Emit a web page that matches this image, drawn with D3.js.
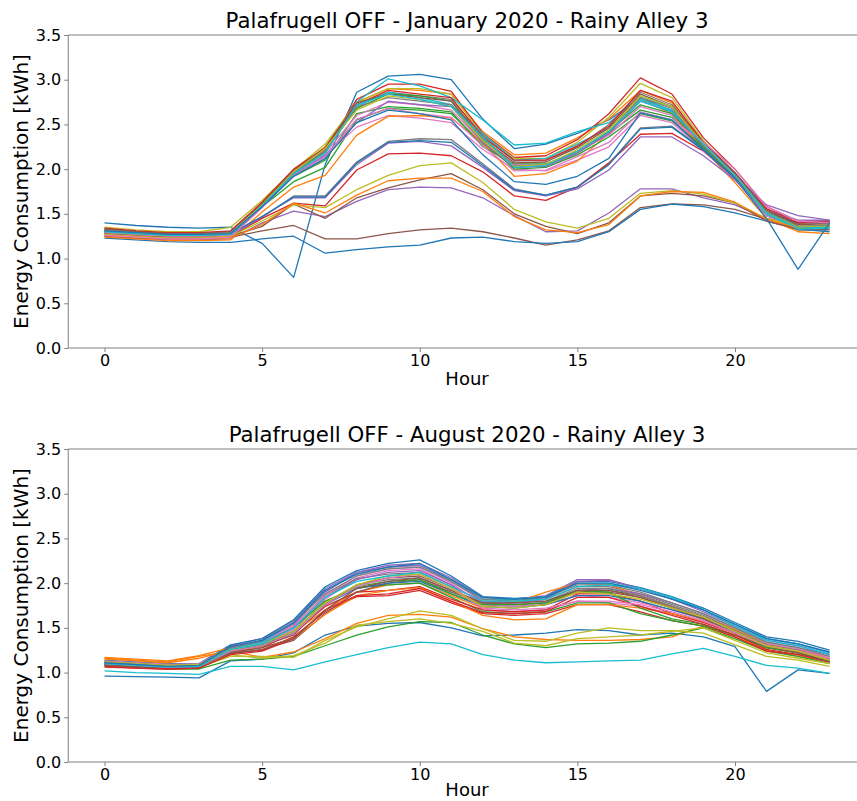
<!DOCTYPE html>
<html><head><meta charset="utf-8">
<script src="https://cdn.jsdelivr.net/npm/d3@7"></script>
<style>body{margin:0;background:#fff} svg{display:block} text{font-family:"DejaVu Sans",sans-serif;fill:#000}</style>
</head><body><svg id="c" width="857" height="801"></svg>
<script>
const hours = [0,1,2,3,4,5,6,7,8,9,10,11,12,13,14,15,16,17,18,19,20,21,22,23];
const xTicks = [0,5,10,15,20];
const yTicks = [0.0,0.5,1.0,1.5,2.0,2.5,3.0,3.5];
const titles = ["Palafrugell OFF - January 2020 - Rainy Alley 3", "Palafrugell OFF - August 2020 - Rainy Alley 3"];
const xLabel = "Hour";
const yLabel = "Energy Consumption [kWh]";
const palette = ["#1f77b4","#ff7f0e","#2ca02c","#d62728","#9467bd","#8c564b","#e377c2","#7f7f7f","#bcbd22","#17becf"];

// January daily profiles (kWh per hour)
const jan01 = [1.40,1.37,1.35,1.34,1.35,1.17,0.79,2.05,2.86,3.04,3.06,3.00,2.56,2.23,2.28,2.40,2.55,2.80,2.65,2.25,1.92,1.48,1.35,1.38];
const jan02 = [1.33,1.30,1.28,1.27,1.28,1.60,1.98,2.25,2.75,2.90,2.88,2.84,2.42,2.16,2.18,2.35,2.56,2.88,2.74,2.28,1.90,1.52,1.38,1.36];
const jan03 = [1.30,1.28,1.26,1.25,1.27,1.58,1.86,2.02,2.55,2.68,2.66,2.62,2.28,2.02,2.04,2.18,2.40,2.66,2.58,2.25,1.92,1.50,1.32,1.33];
const jan04 = [1.32,1.30,1.28,1.28,1.30,1.62,1.99,2.22,2.78,2.95,2.95,2.87,2.40,2.13,2.15,2.33,2.62,3.02,2.84,2.35,2.00,1.58,1.42,1.42];
const jan05 = [1.25,1.23,1.21,1.21,1.22,1.40,1.53,1.47,1.64,1.77,1.80,1.79,1.68,1.48,1.30,1.31,1.51,1.78,1.78,1.68,1.60,1.45,1.40,1.42];
const jan06 = [1.25,1.23,1.22,1.22,1.24,1.31,1.37,1.22,1.22,1.28,1.32,1.34,1.30,1.23,1.15,1.21,1.31,1.57,1.61,1.60,1.55,1.44,1.32,1.32];
const jan07 = [1.27,1.25,1.23,1.23,1.25,1.57,1.94,2.15,2.47,2.60,2.57,2.52,2.22,2.00,1.98,2.10,2.25,2.60,2.52,2.22,1.88,1.48,1.33,1.34];
const jan08 = [1.31,1.28,1.26,1.26,1.27,1.46,1.70,1.70,2.08,2.31,2.34,2.33,2.06,1.78,1.71,1.80,2.06,2.46,2.48,2.22,1.92,1.50,1.38,1.40];
const jan09 = [1.35,1.32,1.30,1.30,1.35,1.65,1.99,2.28,2.74,2.90,2.90,2.84,2.38,2.12,2.12,2.30,2.58,2.96,2.80,2.32,1.95,1.55,1.40,1.40];
const jan10 = [1.32,1.30,1.28,1.27,1.29,1.60,1.96,2.20,2.75,3.01,2.93,2.80,2.55,2.27,2.29,2.42,2.52,2.80,2.70,2.30,1.95,1.52,1.36,1.37];
const jan11 = [1.23,1.21,1.19,1.18,1.18,1.22,1.25,1.06,1.10,1.13,1.15,1.23,1.24,1.19,1.17,1.19,1.30,1.55,1.61,1.58,1.51,1.42,1.33,1.30];
const jan12 = [1.24,1.22,1.20,1.20,1.21,1.52,1.80,1.93,2.38,2.59,2.60,2.57,2.30,1.92,1.95,2.09,2.40,2.78,2.62,2.22,1.85,1.45,1.30,1.28];
const jan13 = [1.29,1.27,1.25,1.24,1.26,1.58,1.92,2.10,2.62,2.70,2.68,2.64,2.25,2.06,2.06,2.20,2.42,2.72,2.62,2.26,1.94,1.50,1.34,1.35];
const jan14 = [1.28,1.26,1.24,1.24,1.25,1.45,1.62,1.59,1.99,2.17,2.18,2.15,1.97,1.70,1.65,1.80,2.07,2.39,2.40,2.20,1.90,1.52,1.40,1.42];
const jan15 = [1.30,1.27,1.25,1.25,1.26,1.47,1.68,1.68,2.05,2.29,2.31,2.26,2.02,1.76,1.70,1.78,1.99,2.36,2.36,2.15,1.88,1.55,1.43,1.43];
const jan16 = [1.28,1.26,1.24,1.24,1.25,1.36,1.61,1.45,1.68,1.79,1.88,1.95,1.77,1.50,1.36,1.28,1.40,1.70,1.73,1.70,1.62,1.42,1.33,1.35];
const jan17 = [1.29,1.27,1.25,1.25,1.26,1.60,1.96,2.18,2.60,2.75,2.72,2.66,2.30,2.05,2.04,2.20,2.38,2.70,2.60,2.20,1.90,1.50,1.35,1.36];
const jan18 = [1.33,1.30,1.28,1.28,1.30,1.61,1.97,2.22,2.72,2.86,2.82,2.78,2.38,2.09,2.10,2.25,2.50,2.86,2.72,2.30,1.95,1.55,1.38,1.40];
const jan19 = [1.27,1.25,1.23,1.23,1.25,1.42,1.60,1.57,1.77,1.93,2.04,2.07,1.85,1.55,1.41,1.34,1.45,1.73,1.76,1.72,1.62,1.45,1.36,1.38];
const jan20 = [1.31,1.29,1.27,1.26,1.28,1.59,1.95,2.19,2.70,2.86,2.80,2.72,2.40,2.10,2.12,2.28,2.46,2.78,2.66,2.28,1.92,1.50,1.33,1.34];
const jan21 = [1.32,1.29,1.27,1.27,1.28,1.47,1.69,1.69,2.07,2.30,2.32,2.30,2.04,1.77,1.71,1.80,2.05,2.45,2.47,2.21,1.90,1.52,1.40,1.41];
const jan22 = [1.26,1.24,1.22,1.22,1.23,1.38,1.62,1.51,1.71,1.87,1.90,1.90,1.75,1.47,1.32,1.29,1.38,1.70,1.75,1.74,1.63,1.44,1.34,1.36];
const jan23 = [1.31,1.29,1.27,1.26,1.28,1.62,1.97,2.20,2.68,2.84,2.82,2.76,2.32,2.00,2.02,2.16,2.36,2.62,2.54,2.24,1.92,1.52,1.35,1.36];
const jan24 = [1.34,1.31,1.29,1.29,1.31,1.63,2.00,2.24,2.72,2.88,2.84,2.80,2.36,2.10,2.10,2.26,2.48,2.88,2.76,2.30,1.96,1.56,1.40,1.41];
const jan25 = [1.30,1.28,1.26,1.26,1.27,1.58,1.93,2.16,2.52,2.76,2.72,2.70,2.30,2.02,2.03,2.18,2.40,2.76,2.64,2.26,1.93,1.60,1.48,1.43];
const jan26 = [1.33,1.30,1.28,1.28,1.30,1.61,1.98,2.24,2.74,2.84,2.80,2.76,2.34,2.07,2.08,2.24,2.46,2.84,2.70,2.30,1.96,1.54,1.38,1.39];
const jan27 = [1.26,1.24,1.22,1.22,1.24,1.57,1.93,2.14,2.56,2.68,2.62,2.58,2.26,1.98,1.99,2.14,2.30,2.64,2.55,2.30,2.00,1.58,1.42,1.40];
const jan28 = [1.32,1.29,1.27,1.27,1.29,1.60,1.96,2.20,2.70,2.80,2.76,2.72,2.34,2.04,2.05,2.20,2.42,2.80,2.68,2.27,1.92,1.52,1.36,1.37];
const jan29 = [1.30,1.28,1.26,1.26,1.28,1.60,1.97,2.23,2.66,2.82,2.78,2.70,2.32,2.03,2.05,2.22,2.44,2.82,2.70,2.28,1.93,1.51,1.35,1.36];
const jan30 = [1.30,1.28,1.26,1.26,1.27,1.59,1.95,2.18,2.72,2.84,2.78,2.70,2.36,2.02,2.04,2.20,2.42,2.76,2.64,2.28,1.93,1.51,1.34,1.35];
const jan31 = [1.31,1.29,1.27,1.27,1.28,1.58,1.92,2.12,2.52,2.66,2.62,2.55,2.16,1.86,1.83,1.92,2.12,2.63,2.55,2.22,1.90,1.45,0.88,1.40];

// August daily profiles (kWh per hour)
const aug01 = [0.96,0.955,0.95,0.94,1.13,1.15,1.22,1.42,1.52,1.55,1.56,1.50,1.41,1.42,1.44,1.48,1.47,1.42,1.44,1.40,1.29,0.79,1.03,0.99];
const aug02 = [1.16,1.14,1.12,1.18,1.24,1.17,1.23,1.38,1.55,1.64,1.65,1.62,1.49,1.40,1.37,1.36,1.36,1.37,1.40,1.52,1.40,1.25,1.18,1.12];
const aug03 = [1.08,1.06,1.04,1.04,1.14,1.15,1.18,1.30,1.42,1.51,1.57,1.56,1.42,1.32,1.28,1.32,1.33,1.35,1.42,1.50,1.38,1.24,1.18,1.10];
const aug04 = [1.06,1.05,1.04,1.05,1.22,1.25,1.40,1.68,1.85,1.86,1.92,1.78,1.66,1.64,1.66,1.76,1.76,1.68,1.58,1.52,1.40,1.24,1.20,1.12];
const aug05 = [1.13,1.11,1.09,1.10,1.30,1.38,1.58,1.94,2.12,2.20,2.22,2.06,1.84,1.82,1.86,2.04,2.04,1.94,1.82,1.70,1.54,1.38,1.32,1.22];
const aug06 = [1.10,1.08,1.06,1.07,1.24,1.30,1.42,1.76,1.98,2.06,2.08,1.94,1.76,1.74,1.76,1.90,1.90,1.84,1.72,1.60,1.46,1.30,1.24,1.14];
const aug07 = [1.12,1.10,1.08,1.08,1.26,1.32,1.48,1.82,2.06,2.14,2.16,1.98,1.70,1.68,1.70,1.80,1.78,1.74,1.66,1.56,1.44,1.32,1.26,1.18];
const aug08 = [1.11,1.09,1.07,1.08,1.27,1.34,1.52,1.86,2.05,2.10,2.12,1.96,1.80,1.80,1.82,1.96,1.96,1.88,1.76,1.64,1.48,1.32,1.26,1.16];
const aug09 = [1.10,1.08,1.06,1.06,1.18,1.18,1.17,1.36,1.51,1.60,1.69,1.64,1.49,1.36,1.35,1.44,1.50,1.47,1.47,1.44,1.31,1.18,1.14,1.07];
const aug10 = [1.02,1.00,0.99,0.98,1.07,1.07,1.03,1.12,1.20,1.28,1.34,1.32,1.20,1.14,1.11,1.12,1.13,1.14,1.21,1.27,1.18,1.08,1.05,0.99];
const aug11 = [1.14,1.12,1.10,1.10,1.31,1.38,1.59,1.96,2.14,2.22,2.26,2.08,1.85,1.83,1.85,2.02,2.02,1.95,1.85,1.72,1.56,1.40,1.35,1.25];
const aug12 = [1.17,1.15,1.13,1.19,1.28,1.32,1.45,1.70,1.90,1.98,2.00,1.86,1.72,1.78,1.90,2.00,1.98,1.86,1.74,1.62,1.48,1.32,1.26,1.16];
const aug13 = [1.12,1.10,1.08,1.09,1.28,1.35,1.50,1.80,1.95,1.98,2.00,1.84,1.68,1.66,1.68,1.78,1.78,1.66,1.58,1.52,1.42,1.28,1.22,1.13];
const aug14 = [1.09,1.07,1.05,1.06,1.23,1.28,1.44,1.74,1.90,1.92,1.96,1.82,1.70,1.68,1.70,1.88,1.88,1.80,1.66,1.56,1.44,1.28,1.22,1.14];
const aug15 = [1.12,1.10,1.08,1.09,1.26,1.33,1.50,1.84,2.04,2.12,2.14,1.98,1.78,1.76,1.78,1.92,1.94,1.88,1.78,1.66,1.50,1.34,1.28,1.20];
const aug16 = [1.08,1.06,1.05,1.06,1.21,1.26,1.36,1.66,1.90,2.00,2.04,1.90,1.78,1.76,1.78,1.90,1.92,1.86,1.74,1.62,1.46,1.30,1.24,1.14];
const aug17 = [1.13,1.11,1.09,1.10,1.28,1.34,1.52,1.86,2.08,2.16,2.18,2.00,1.76,1.74,1.76,1.86,1.84,1.78,1.70,1.60,1.46,1.32,1.26,1.18];
const aug18 = [1.10,1.08,1.06,1.07,1.25,1.31,1.46,1.78,1.98,2.04,2.06,1.92,1.78,1.78,1.80,1.94,1.94,1.86,1.74,1.62,1.47,1.31,1.25,1.15];
const aug19 = [1.12,1.10,1.08,1.07,1.20,1.16,1.19,1.33,1.53,1.57,1.60,1.55,1.46,1.33,1.30,1.38,1.40,1.42,1.46,1.50,1.36,1.22,1.16,1.10];
const aug20 = [1.11,1.09,1.07,1.08,1.27,1.34,1.55,1.92,2.10,2.18,2.20,2.04,1.82,1.82,1.84,2.00,2.00,1.94,1.84,1.70,1.54,1.38,1.32,1.22];
const aug21 = [1.10,1.08,1.06,1.07,1.24,1.30,1.44,1.76,1.94,2.00,2.02,1.88,1.74,1.72,1.76,1.86,1.86,1.80,1.70,1.60,1.46,1.30,1.24,1.14];
const aug22 = [1.15,1.13,1.11,1.16,1.25,1.28,1.38,1.65,1.86,1.92,1.95,1.80,1.64,1.59,1.60,1.76,1.76,1.72,1.66,1.58,1.44,1.30,1.24,1.14];
const aug23 = [1.09,1.07,1.06,1.07,1.24,1.30,1.46,1.78,1.96,2.02,2.04,1.88,1.76,1.76,1.78,1.92,1.90,1.72,1.60,1.54,1.42,1.28,1.22,1.12];
const aug24 = [1.07,1.05,1.04,1.05,1.20,1.24,1.38,1.70,1.86,1.88,1.94,1.80,1.67,1.66,1.68,1.84,1.84,1.74,1.64,1.54,1.42,1.26,1.20,1.12];
const aug25 = [1.11,1.09,1.07,1.08,1.27,1.36,1.54,1.90,2.12,2.18,2.20,2.02,1.80,1.78,1.82,2.02,2.03,1.94,1.82,1.68,1.52,1.36,1.30,1.20];
const aug26 = [1.09,1.07,1.06,1.07,1.22,1.28,1.38,1.70,1.94,2.02,2.06,1.92,1.78,1.78,1.80,1.92,1.92,1.84,1.72,1.60,1.44,1.30,1.22,1.12];
const aug27 = [1.10,1.08,1.06,1.07,1.24,1.30,1.44,1.76,1.96,2.06,2.10,1.94,1.72,1.70,1.72,1.80,1.80,1.76,1.68,1.58,1.44,1.30,1.24,1.16];
const aug28 = [1.12,1.10,1.08,1.09,1.28,1.36,1.56,1.88,2.08,2.16,2.18,2.02,1.82,1.80,1.84,1.98,1.98,1.90,1.78,1.66,1.50,1.34,1.28,1.18];
const aug29 = [1.12,1.10,1.08,1.09,1.26,1.32,1.46,1.78,1.98,2.08,2.10,1.94,1.74,1.72,1.76,1.90,1.88,1.82,1.72,1.62,1.46,1.30,1.24,1.14];
const aug30 = [1.10,1.08,1.06,1.07,1.26,1.32,1.50,1.84,2.02,2.08,2.12,1.96,1.80,1.80,1.82,1.96,1.98,1.94,1.84,1.70,1.52,1.36,1.30,1.20];
const aug31 = [1.11,1.09,1.07,1.08,1.29,1.36,1.56,1.92,2.10,2.18,2.22,2.04,1.84,1.82,1.84,2.00,2.00,1.92,1.82,1.70,1.54,1.38,1.32,1.23];

const januarySeries = [jan01,jan02,jan03,jan04,jan05,jan06,jan07,jan08,jan09,jan10,jan11,jan12,jan13,jan14,jan15,jan16,jan17,jan18,jan19,jan20,jan21,jan22,jan23,jan24,jan25,jan26,jan27,jan28,jan29,jan30,jan31];
const augustSeries = [aug01,aug02,aug03,aug04,aug05,aug06,aug07,aug08,aug09,aug10,aug11,aug12,aug13,aug14,aug15,aug16,aug17,aug18,aug19,aug20,aug21,aug22,aug23,aug24,aug25,aug26,aug27,aug28,aug29,aug30,aug31];

const svg = d3.select("#c");
const axL = 68.25, axR = 865.8;
const spineColor = "#808080";

function panel(series, top, bottom, title, idx, xLabelOffset) {
  const x = d3.scaleLinear().domain([-1.15, 24.15]).range([axL, axR]);
  const y = d3.scaleLinear().domain([0, 3.5]).range([bottom, top]);
  const g = svg.append("g");

  g.append("clipPath").attr("id", "clip" + idx).append("rect")
    .attr("x", axL).attr("y", top).attr("width", axR - axL).attr("height", bottom - top);

  const line = d3.line().x((d, i) => x(hours[i])).y(d => y(d));
  g.append("g").attr("clip-path", `url(#clip${idx})`)
    .selectAll("path").data(series).join("path")
    .attr("d", line)
    .attr("fill", "none")
    .attr("stroke", (d, i) => palette[i % palette.length])
    .attr("stroke-width", 1.3)
    .attr("stroke-linejoin", "round");

  const xa = g.append("g").attr("transform", `translate(0,${bottom})`)
    .call(d3.axisBottom(x).tickValues(xTicks).tickFormat(d3.format("d")).tickSize(4).tickPadding(3));
  const ya = g.append("g").attr("transform", `translate(${axL},0)`)
    .call(d3.axisLeft(y).tickValues(yTicks).tickFormat(d3.format(".1f")).tickSize(4).tickPadding(3));
  [xa, ya].forEach(a => {
    a.select(".domain").remove();
    a.selectAll(".tick line").attr("stroke", spineColor);
    a.selectAll(".tick text").attr("font-size", 16).attr("font-family", "DejaVu Sans").attr("fill", "#000");
  });

  // spines
  g.append("line").attr("x1", axL).attr("x2", axL).attr("y1", top).attr("y2", bottom).attr("stroke", spineColor);
  g.append("line").attr("x1", axL).attr("x2", axR).attr("y1", bottom).attr("y2", bottom).attr("stroke", spineColor);
  g.append("line").attr("x1", axL).attr("x2", axR).attr("y1", top).attr("y2", top).attr("stroke", spineColor);
  g.append("line").attr("x1", axR).attr("x2", axR).attr("y1", top).attr("y2", bottom).attr("stroke", spineColor);

  const cx = (axL + axR) / 2;
  g.append("text").attr("x", cx).attr("y", top - 7).attr("text-anchor", "middle")
    .attr("font-size", 21.3).text(title);
  g.append("text").attr("x", cx).attr("y", bottom + xLabelOffset).attr("text-anchor", "middle")
    .attr("font-size", 18).text(xLabel);
  g.append("text").attr("transform", `translate(28,${(top + bottom) / 2}) rotate(-90)`)
    .attr("text-anchor", "middle").attr("font-size", 20).text(yLabel);
}

panel(januarySeries, 35, 348, titles[0], 0, 37);
panel(augustSeries, 449, 762, titles[1], 1, 34);
</script>
</body></html>
